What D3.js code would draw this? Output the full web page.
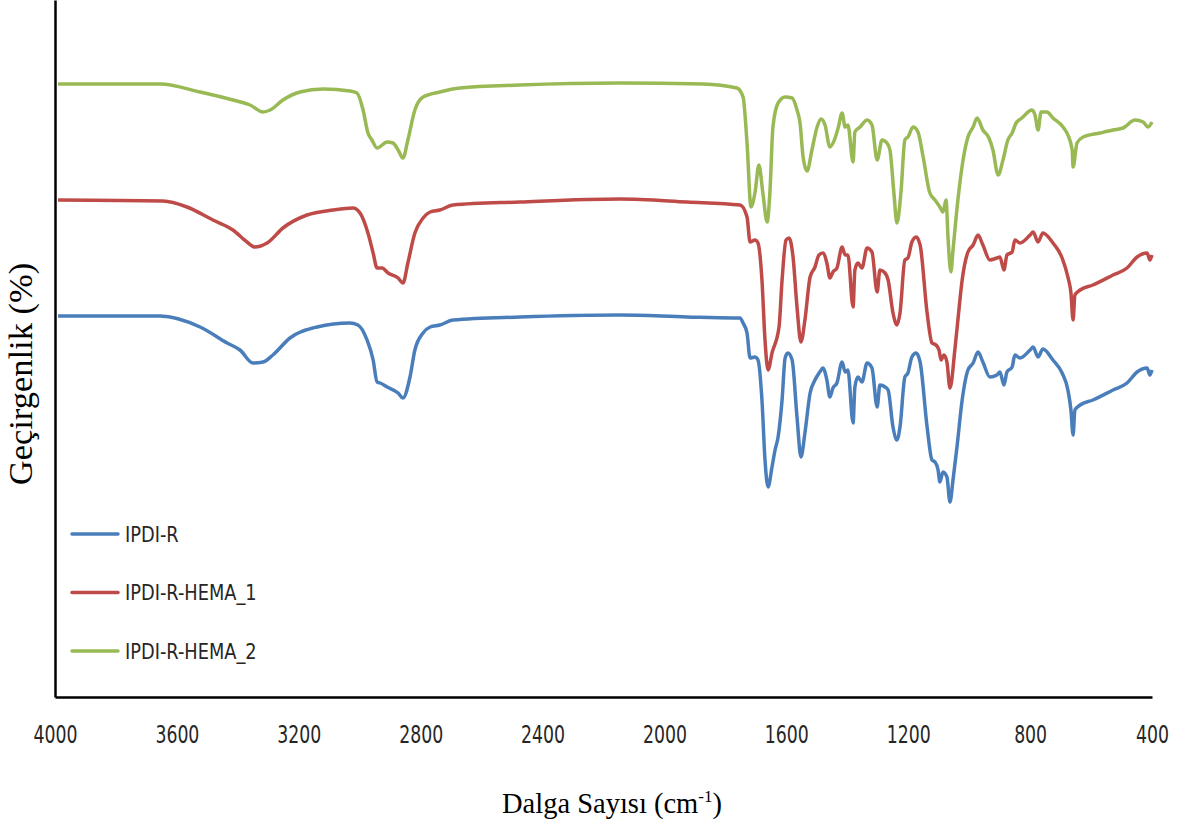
<!DOCTYPE html>
<html>
<head>
<meta charset="utf-8">
<script src="https://cdn.jsdelivr.net/npm/d3@7"></script>
<style>
  body { margin: 0; background: #fff; }
  .tick text { font-family: "Liberation Sans Narrow", "DejaVu Sans Condensed", sans-serif; font-size: 24px; fill: #262626; }
  .legendtext { font-family: "Liberation Sans Narrow", "DejaVu Sans Condensed", sans-serif; font-size: 22px; fill: #262626; }
  .axistitle { font-family: "Liberation Serif", "DejaVu Serif", serif; fill: #000; }
</style>
</head>
<body>
<svg></svg>
<script>
// wavenumbers (cm-1) and transmittance readings, one pair of arrays per sample
var waveIPDI = [3990,3655,3524,3435,3393,3350,3317,3285,3229,3140,3032,3006,2976,2956,2943,2933,2910,2874,2858,2835,
  2819,2792,2769,2737,2694,2474,2146,1926,1775,1752,1742,1729,1719,1703,1693,1680,1670,1660,1647,1637,
  1627,1614,1604,1595,1581,1565,1552,1539,1522,1506,1490,1480,1467,1457,1447,1434,1417,1407,1398,1381,
  1375,1365,1352,1335,1319,1302,1293,1276,1266,1250,1237,1227,1211,1201,1188,1174,1161,1138,1122,1112,
  1102,1096,1086,1073,1063,1053,1040,1023,1004,987,971,955,932,909,899,886,876,859,850,833,
  800,790,774,758,725,695,676,666,659,653,636,594,528,482,449,416,407,400];
var tIPDI = [38.1,38.1,37.0,35.4,34.7,33.4,33.5,34.2,35.9,37.0,37.4,37.2,35.7,33.7,31.5,31.4,31.0,30.4,29.9,32.0,
  34.7,36.4,37.0,37.2,37.7,38.0,38.2,38.0,37.9,37.9,37.4,36.4,33.9,34.0,33.7,29.7,23.7,21.0,23.0,24.7,
  26.0,29.7,33.9,34.4,33.7,28.0,24.0,26.4,30.4,31.7,32.5,32.9,31.7,30.0,30.9,31.4,33.5,32.5,32.7,27.4,
  31.0,32.0,31.5,33.4,32.9,29.0,31.2,31.0,30.7,27.0,25.7,27.0,32.0,32.4,34.0,34.4,33.5,27.0,23.7,23.5,
  22.7,21.5,22.5,22.0,19.5,21.7,25.0,29.7,32.7,33.4,34.5,33.5,32.0,32.2,32.5,31.2,32.5,33.0,34.2,33.9,
  34.7,35.0,34.0,34.8,33.7,32.4,30.7,28.7,26.2,28.7,29.2,29.7,30.7,31.4,32.5,32.9,32.2,32.7];

var waveHEMA1 = [3990,3646,3567,3482,3416,3370,3344,3304,3252,3173,3088,3022,2999,2973,2956,2943,2927,2907,2874,2858,
  2842,2819,2792,2769,2737,2694,2474,2146,1926,1752,1729,1719,1703,1693,1680,1670,1660,1647,1624,1614,
  1601,1591,1578,1565,1552,1539,1522,1506,1493,1480,1467,1457,1447,1434,1417,1407,1398,1381,1375,1365,
  1352,1335,1319,1302,1293,1276,1266,1250,1237,1227,1211,1201,1188,1174,1161,1138,1122,1109,1099,1092,
  1083,1073,1063,1047,1037,1023,1004,987,971,955,932,909,899,886,876,859,850,833,800,790,
  774,758,725,695,676,666,659,653,636,594,528,482,449,416,407,400];
var tHEMA1 = [49.7,49.6,49.0,47.7,46.7,45.5,45.0,45.4,46.9,48.2,48.7,48.9,48.4,46.4,44.4,42.9,42.9,42.4,41.9,41.4,
  43.4,46.4,47.9,48.5,48.7,49.2,49.5,49.8,49.5,49.2,48.0,45.5,45.7,45.4,41.7,35.7,32.7,34.4,37.0,41.7,
  45.7,45.9,44.0,39.0,35.5,37.7,42.0,43.0,44.2,44.4,43.4,41.9,42.5,42.9,45.0,44.2,44.2,39.0,42.7,43.4,
  42.9,44.9,44.5,40.5,42.7,42.4,41.7,38.4,37.2,38.4,43.7,43.9,45.5,46.0,45.2,38.4,35.4,35.2,34.7,33.7,
  34.2,33.5,30.9,34.7,37.7,41.7,44.5,45.2,46.2,45.2,43.7,43.9,44.0,42.7,44.2,44.5,45.7,45.4,46.2,46.5,
  45.5,46.4,45.4,43.9,42.0,40.4,37.7,40.2,40.7,41.2,42.2,42.9,44.0,44.4,43.7,44.2];

var waveHEMA2 = [3990,3655,3524,3416,3360,3317,3294,3252,3196,3120,3032,3009,2989,2973,2960,2943,2910,2891,2874,2858,
  2842,2819,2792,2737,2671,2474,2146,1874,1762,1742,1729,1716,1703,1690,1677,1663,1654,1644,1627,1604,
  1581,1565,1555,1545,1532,1516,1499,1486,1473,1457,1440,1430,1417,1407,1398,1381,1375,1358,1335,1319,
  1302,1286,1270,1260,1247,1237,1224,1211,1201,1184,1168,1151,1129,1112,1096,1086,1076,1069,1060,1053,
  1037,1020,1004,987,974,955,935,922,905,889,873,859,846,827,794,784,774,764,745,725,
  692,676,662,659,646,626,571,528,495,456,429,413,400];
var tHEMA2 = [61.3,61.3,60.5,59.7,59.2,58.5,58.7,59.7,60.5,60.8,60.6,60.4,58.7,56.4,55.7,54.9,55.5,55.4,54.7,53.9,
  55.7,58.7,60.0,60.5,60.9,61.2,61.4,61.3,60.9,60.0,55.4,49.0,50.4,53.2,50.4,47.5,50.4,57.0,59.4,60.0,
  59.9,58.7,57.4,54.0,52.6,54.7,57.0,57.8,57.2,55.0,55.9,56.9,58.4,57.0,57.2,53.5,56.5,57.0,57.7,57.2,
  53.7,55.7,55.4,54.7,50.4,47.4,50.4,55.7,56.0,57.0,56.5,54.0,50.4,49.7,49.0,48.5,49.7,45.7,42.5,44.7,
  49.7,53.7,56.0,57.0,57.9,56.7,55.9,54.7,52.2,53.7,55.7,56.4,57.4,57.9,58.7,58.2,56.7,58.5,58.5,57.9,
  57.0,56.2,54.7,53.0,55.4,56.0,56.4,56.7,56.9,57.7,57.5,57.0,57.5];

var seriesNames = ["IPDI-R", "IPDI-R-HEMA_1", "IPDI-R-HEMA_2"];
var seriesColors = ["#4a7ebb", "#be4b48", "#98b954"];
var xTicks = [4000, 3600, 3200, 2800, 2400, 2000, 1600, 1200, 800, 400];

var svgWidth = 1179, svgHeight = 824;
// note: "top" is taken by window.top, so plot edges get their own names
var plotLeft = 55, plotRight = 1152, plotTop = 0, plotBottom = 697;

var svg = d3.select("svg")
    .attr("width", svgWidth)
    .attr("height", svgHeight);

var x = d3.scaleLinear()
    .domain([4000, 400])
    .range([plotLeft, plotRight]);

var y = d3.scaleLinear()
    .domain([0, 69.7])
    .range([plotBottom, plotTop]);

var series = [
  { name: seriesNames[0], color: seriesColors[0], wave: waveIPDI, t: tIPDI },
  { name: seriesNames[1], color: seriesColors[1], wave: waveHEMA1, t: tHEMA1 },
  { name: seriesNames[2], color: seriesColors[2], wave: waveHEMA2, t: tHEMA2 }
];

var line = d3.line()
    .x(function(d){ return x(d[0]); })
    .y(function(d){ return y(d[1]); })
    .curve(d3.curveMonotoneX);

svg.selectAll("path.spectrum")
    .data(series)
    .enter()
    .append("path")
    .attr("class", "spectrum")
    .attr("fill", "none")
    .attr("stroke", function(d){ return d.color; })
    .attr("stroke-width", 3.5)
    .attr("stroke-linejoin", "round")
    .attr("d", function(d){
        return line(d.wave.map(function(w, i){ return [w, d.t[i]]; }));
    });

// axes
var xAxis = svg.append("g")
    .attr("transform", "translate(0," + plotBottom + ")")
    .call(d3.axisBottom(x).tickValues(xTicks).tickSize(0).tickPadding(29).tickFormat(d3.format("d")));
xAxis.select(".domain").attr("stroke", "#000").attr("stroke-width", 2.5);
xAxis.selectAll(".tick text").attr("transform", "scale(0.8,1)");

var yAxis = svg.append("g")
    .attr("transform", "translate(" + plotLeft + ",0)")
    .call(d3.axisLeft(y).tickValues([]).tickSizeOuter(0));
yAxis.select(".domain").attr("stroke", "#000").attr("stroke-width", 2.5);

// legend
var legend = svg.selectAll("g.legend")
    .data(series)
    .enter()
    .append("g")
    .attr("class", "legend")
    .attr("transform", function(d, i){ return "translate(72," + (534 + i * 58.5) + ")"; });

legend.append("line")
    .attr("x1", 0).attr("x2", 46)
    .attr("stroke", function(d){ return d.color; })
    .attr("stroke-width", 3.5)
    .attr("stroke-linecap", "round");

legend.append("text")
    .attr("class", "legendtext")
    .attr("transform", "translate(53,0) scale(0.9,1)")
    .attr("dy", "0.36em")
    .text(function(d){ return d.name; });

// axis titles
svg.append("text")
    .attr("class", "axistitle")
    .attr("font-size", "34.5px")
    .attr("text-anchor", "middle")
    .attr("transform", "translate(32,374) rotate(-90)")
    .text("Geçirgenlik (%)");

var xt = svg.append("text")
    .attr("class", "axistitle")
    .attr("font-size", "28.5px")
    .attr("x", 502)
    .attr("y", 813);
xt.append("tspan").text("Dalga Sayısı (cm");
xt.append("tspan").attr("font-size", "17px").attr("dy", "-11").text("-1");
xt.append("tspan").attr("dy", "11").text(")");
</script>
</body>
</html>
